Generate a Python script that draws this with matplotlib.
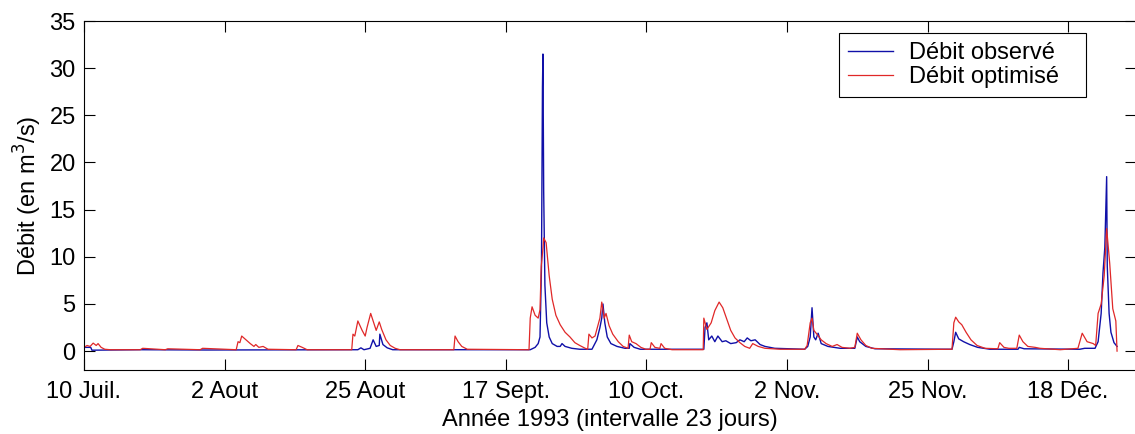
import matplotlib
matplotlib.use('Agg')
import matplotlib.pyplot as plt

# days counted from 10 July 1993
days_obs = [0.0, 1.1, 1.3, 9.2, 20.0, 44.8, 45.3, 45.8, 46.8, 47.3, 47.8, 48.3,
            48.4, 48.9, 49.6, 50.5, 73.0, 73.8, 74.3, 74.6, 74.84, 75.0, 75.08,
            75.2, 75.4, 75.7, 76.1, 76.6, 77.4, 77.9, 78.2, 78.7, 79.8, 81.1,
            83.1, 83.9, 84.4, 84.7, 84.9, 85.2, 85.6, 86.2, 87.2, 88.5, 89.2,
            89.3, 90.0, 91.0, 101.4, 101.6, 101.9, 102.2, 102.7, 103.2, 103.7,
            104.4, 105.0, 105.8, 106.7, 107.3, 108.0, 108.5, 109.1, 109.8, 110.6,
            111.4, 113.0, 117.9, 118.4, 118.8, 119.1, 119.4, 119.7, 120.1, 120.6,
            121.7, 123.7, 126.1, 126.5, 126.9, 127.9, 129.4, 142.0, 142.3, 142.6,
            143.1, 143.9, 144.9, 146.2, 148.2, 152.8, 153.0, 153.8, 162.9, 163.7,
            165.4, 165.9, 166.4, 166.7, 167.0, 167.3, 167.4, 167.7, 168.0, 168.5,
            169.0]
q_obs = [0.4, 0.4, 0.1, 0.15, 0.12, 0.15, 0.35, 0.15, 0.3, 1.2, 0.5, 0.6,
         1.8, 0.7, 0.35, 0.15, 0.15, 0.4, 0.8, 1.5, 9.0, 28.0, 31.5,
         17.0, 7.0, 3.0, 1.5, 0.8, 0.5, 0.5, 0.8, 0.5, 0.3, 0.2,
         0.2, 1.2, 2.5, 3.5, 5.0, 3.0, 1.5, 0.8, 0.5, 0.3, 0.3,
         0.8, 0.4, 0.2, 0.2, 2.5, 3.0, 1.2, 1.6, 1.0, 1.6,
         1.0, 1.1, 0.8, 0.9, 1.2, 1.0, 1.4, 1.1, 1.2, 0.7,
         0.5, 0.3, 0.2, 0.5, 1.5, 4.6, 1.5, 1.2, 1.9, 0.8,
         0.5, 0.3, 0.3, 1.5, 1.0, 0.5, 0.25, 0.2, 1.0, 2.0,
         1.3, 1.0, 0.7, 0.4, 0.2, 0.2, 0.4, 0.25, 0.2, 0.3,
         0.3, 1.0, 4.0, 8.3, 11.0, 18.5, 9.0, 4.0, 2.0, 0.9,
         0.5]

days_opt = [0.0, 0.5, 1.0, 1.5, 2.0, 2.3, 2.8, 3.4, 4.3, 9.2, 9.6, 13.3, 13.7,
            19.0, 19.4, 24.9, 25.2, 25.5, 25.8, 26.5, 27.2, 27.8, 28.1, 28.6,
            29.3, 30.1, 34.7, 35.0, 35.7, 36.5, 43.8, 44.0, 44.3, 44.8, 45.5,
            46.0, 46.3, 46.9, 47.4, 47.8, 48.3, 48.7, 49.4, 50.1, 50.9, 51.7,
            60.5, 60.7, 61.2, 61.8, 62.7, 72.8, 73.0, 73.3, 73.8, 74.3, 74.6,
            74.8, 75.1, 75.2, 75.6, 76.1, 76.6, 77.2, 77.9, 78.7, 79.5, 80.3,
            81.1, 82.0, 82.4, 82.6, 83.1, 83.6, 84.1, 84.4, 84.7, 85.1, 85.4,
            85.9, 86.5, 87.4, 88.2, 89.0, 89.2, 89.6, 90.3, 91.1, 91.9, 92.6,
            92.8, 93.4, 94.2, 94.4, 95.0, 96.2, 101.3, 101.4, 101.9, 102.6,
            103.2, 103.9, 104.5, 105.2, 105.8, 106.5, 107.3, 108.1, 108.9,
            109.4, 110.3, 111.4, 113.9, 117.9, 118.3, 118.8, 119.1, 119.4,
            119.9, 120.6, 121.4, 122.4, 123.2, 124.0, 125.3, 126.1, 126.5,
            127.1, 127.9, 128.9, 133.5, 142.0, 142.3, 142.6, 143.1, 143.6,
            144.3, 145.1, 146.1, 147.4, 149.5, 149.8, 150.5, 151.3, 152.6,
            153.0, 153.6, 154.4, 155.6, 156.4, 159.7, 162.6, 163.3, 164.1,
            165.1, 165.5, 165.9, 166.4, 166.9, 167.3, 167.8, 168.3, 168.8,
            169.0]
q_opt = [0.4, 0.6, 0.5, 0.85, 0.6, 0.8, 0.4, 0.2, 0.15, 0.15, 0.3, 0.15, 0.25,
         0.15, 0.3, 0.15, 1.0, 0.9, 1.6, 1.2, 0.8, 0.5, 0.7, 0.4,
         0.5, 0.2, 0.15, 0.6, 0.4, 0.15, 0.15, 1.8, 1.6, 3.2, 2.2,
         1.6, 2.5, 4.0, 3.0, 2.2, 3.1, 2.3, 1.2, 0.6, 0.3, 0.15,
         0.15, 1.6, 1.0, 0.5, 0.2, 0.15, 3.5, 4.7, 3.8, 3.5, 4.4,
         9.0, 11.0, 12.0, 11.5, 8.0, 5.5, 3.8, 2.8, 2.0, 1.5, 0.9,
         0.6, 0.3, 0.2, 1.8, 1.4, 1.6, 2.8, 3.5, 5.2, 3.5, 4.0,
         2.7, 1.8, 1.0, 0.5, 0.3, 1.7, 1.0, 0.8, 0.4, 0.2, 0.2,
         0.9, 0.4, 0.3, 0.8, 0.3, 0.15, 0.15, 3.5, 2.3, 3.0,
         4.3, 5.2, 4.6, 3.3, 2.2, 1.4, 0.9, 0.5, 0.3,
         0.8, 0.5, 0.3, 0.2, 0.2, 0.6, 3.0, 3.5, 2.2,
         1.8, 1.2, 0.8, 0.5, 0.7, 0.4, 0.3, 0.4, 1.9,
         1.2, 0.6, 0.3, 0.15, 0.2, 3.0, 3.6, 3.1, 2.8,
         2.0, 1.2, 0.6, 0.3, 0.25, 0.9, 0.4, 0.3, 0.3,
         1.7, 1.0, 0.5, 0.4, 0.3, 0.15, 0.3, 1.9, 1.0,
         0.8, 0.6, 4.0, 5.0, 8.0, 13.0, 9.3, 4.5, 3.2,
         0.0]

tick_days = [0, 23, 46, 69, 92, 115, 138, 161]
tick_labels = ['10 Juil.', '2 Aout', '25 Aout', '17 Sept.', '10 Oct.',
               '2 Nov.', '25 Nov.', '18 Déc.']

plt.rcParams['font.family'] = ['Liberation Sans', 'DejaVu Sans']
plt.rcParams['font.size'] = 17

fig = plt.figure(figsize=(11.35, 4.34), dpi=100)
ax = fig.add_axes([84 / 1135, 64 / 434, 1052 / 1135, 349 / 434])

ax.plot(days_obs, q_obs, color='#1010a8', lw=1.0, label='Débit observé')
ax.plot(days_opt, q_opt, color='#e02828', lw=0.9, label='Débit optimisé')

ax.set_xlim(0, 172.1)
ax.set_ylim(-2, 35)
ax.set_xticks(tick_days)
ax.set_xticklabels(tick_labels)
ax.set_yticks(range(0, 36, 5))
ax.tick_params(direction='in', length=8, width=0.8, top=True, right=True)
ax.tick_params(axis='x', pad=8)
ax.tick_params(axis='y', pad=6)
for s in ax.spines.values():
    s.set_linewidth(0.8)

ax.set_xlabel('Année 1993 (intervalle 23 jours)', labelpad=4)
ax.set_ylabel('Débit (en m$^3$/s)', labelpad=4)

# legend box stretched to the width of the original one
leg = ax.legend(loc='upper left', bbox_to_anchor=(0.7177, 0.0, 0.2348, 0.9656),
                mode='expand', fancybox=False, edgecolor='black', framealpha=1,
                handlelength=1.9, handletextpad=0.65, labelspacing=0.06,
                borderpad=0.4, borderaxespad=0)
leg.get_frame().set_linewidth(0.8)

plt.savefig('out.png', dpi=100)
